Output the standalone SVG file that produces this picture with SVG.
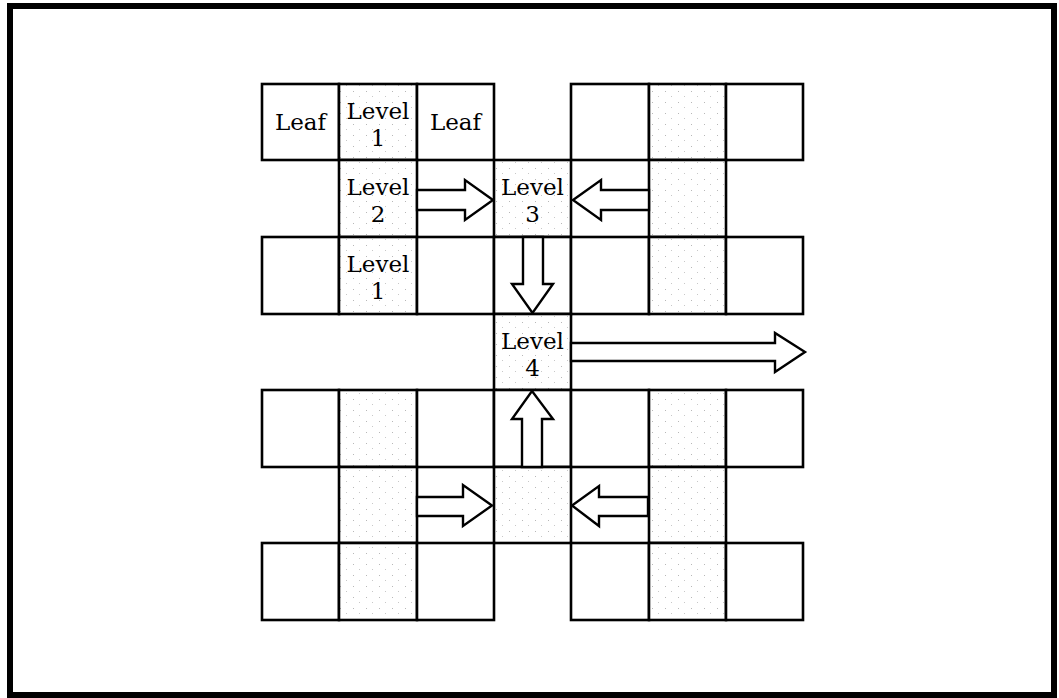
<svg xmlns="http://www.w3.org/2000/svg" width="1059" height="698" viewBox="0 0 1059 698">
<style>
.cell{fill:#fff;stroke:#000;stroke-width:2.6}
.sh{fill:url(#dots);stroke:#000;stroke-width:2.6}
.arr{fill:#fff;stroke:#000;stroke-width:2.4;stroke-linejoin:miter}
.t{font-family:"DejaVu Serif","Liberation Serif",serif;font-size:23px;fill:#000;text-anchor:middle}
</style>
<defs>
<pattern id="dots" width="13" height="11" patternUnits="userSpaceOnUse">
<rect width="13" height="11" fill="#fff"/>
<rect x="2" y="3" width="1" height="1" fill="#b8b8b8"/>
<rect x="8" y="8" width="1" height="1" fill="#c8c8c8"/>
</pattern>
</defs>
<rect x="0" y="0" width="1059" height="698" fill="#fff"/>
<rect x="10" y="6" width="1044" height="689" fill="none" stroke="#000" stroke-width="6"/>

<!-- row 0 -->
<g id="r0c0"><rect class="cell" x="262" y="84" width="77" height="76"/><text class="t" x="300.5" y="130">Leaf</text></g>
<g id="r0c1"><rect class="sh" x="339" y="84" width="78" height="76"/><text class="t" x="378" y="119">Level</text><text class="t" x="378" y="146">1</text></g>
<g id="r0c2"><rect class="cell" x="417" y="84" width="77" height="76"/><text class="t" x="455.5" y="130">Leaf</text></g>
<g id="r0c4"><rect class="cell" x="571" y="84" width="78" height="76"/></g>
<g id="r0c5"><rect class="sh" x="649" y="84" width="77" height="76"/></g>
<g id="r0c6"><rect class="cell" x="726" y="84" width="77" height="76"/></g>

<!-- row 1 -->
<g id="r1c1"><rect class="sh" x="339" y="160" width="78" height="77"/><text class="t" x="378" y="195">Level</text><text class="t" x="378" y="222">2</text></g>
<g id="r1c3"><rect class="sh" x="494" y="160" width="77" height="77"/><text class="t" x="532.5" y="195">Level</text><text class="t" x="532.5" y="222">3</text></g>
<g id="r1c5"><rect class="sh" x="649" y="160" width="77" height="77"/></g>

<!-- row 2 -->
<g id="r2c0"><rect class="cell" x="262" y="237" width="77" height="77"/></g>
<g id="r2c1"><rect class="sh" x="339" y="237" width="78" height="77"/><text class="t" x="378" y="272">Level</text><text class="t" x="378" y="299">1</text></g>
<g id="r2c2"><rect class="cell" x="417" y="237" width="77" height="77"/></g>
<g id="r2c3"><rect class="cell" x="494" y="237" width="77" height="77"/></g>
<g id="r2c4"><rect class="cell" x="571" y="237" width="78" height="77"/></g>
<g id="r2c5"><rect class="sh" x="649" y="237" width="77" height="77"/></g>
<g id="r2c6"><rect class="cell" x="726" y="237" width="77" height="77"/></g>

<!-- row 3 -->
<g id="r3c3"><rect class="sh" x="494" y="314" width="77" height="76"/><text class="t" x="532.5" y="349">Level</text><text class="t" x="532.5" y="376">4</text></g>

<!-- row 4 -->
<g id="r4c0"><rect class="cell" x="262" y="390" width="77" height="77"/></g>
<g id="r4c1"><rect class="sh" x="339" y="390" width="78" height="77"/></g>
<g id="r4c2"><rect class="cell" x="417" y="390" width="77" height="77"/></g>
<g id="r4c3"><rect class="cell" x="494" y="390" width="77" height="77"/></g>
<g id="r4c4"><rect class="cell" x="571" y="390" width="78" height="77"/></g>
<g id="r4c5"><rect class="sh" x="649" y="390" width="77" height="77"/></g>
<g id="r4c6"><rect class="cell" x="726" y="390" width="77" height="77"/></g>

<!-- row 5 -->
<g id="r5c1"><rect class="sh" x="339" y="467" width="78" height="76"/></g>
<g id="r5c3"><rect class="sh" x="494" y="467" width="77" height="76"/></g>
<g id="r5c5"><rect class="sh" x="649" y="467" width="77" height="76"/></g>

<!-- row 6 -->
<g id="r6c0"><rect class="cell" x="262" y="543" width="77" height="77"/></g>
<g id="r6c1"><rect class="sh" x="339" y="543" width="78" height="77"/></g>
<g id="r6c2"><rect class="cell" x="417" y="543" width="77" height="77"/></g>
<g id="r6c4"><rect class="cell" x="571" y="543" width="78" height="77"/></g>
<g id="r6c5"><rect class="sh" x="649" y="543" width="77" height="77"/></g>
<g id="r6c6"><rect class="cell" x="726" y="543" width="77" height="77"/></g>

<g id="connectors">
<polygon class="arr" points="417,190 465,190 465,180 493,200 465,220 465,210 417,210"/>
<polygon class="arr" points="649,190 601,190 601,180 573,200 601,220 601,210 649,210"/>
<polygon class="arr" points="523,237 523,284 512,284 532.5,313 553,284 543,284 543,237"/>
<polygon class="arr" points="571,343 775,343 775,333 805,352 775,372 775,361 571,361"/>
<polygon class="arr" points="522,467 522,419 512,419 532,391 553,419 542,419 542,467"/>
<polygon class="arr" points="417,497 463,497 463,485 492,505.5 463,526 463,516 417,516"/>
<polygon class="arr" points="648,497 599,497 599,486 572,505.5 599,526 599,516 648,516"/>
</g>
</svg>
